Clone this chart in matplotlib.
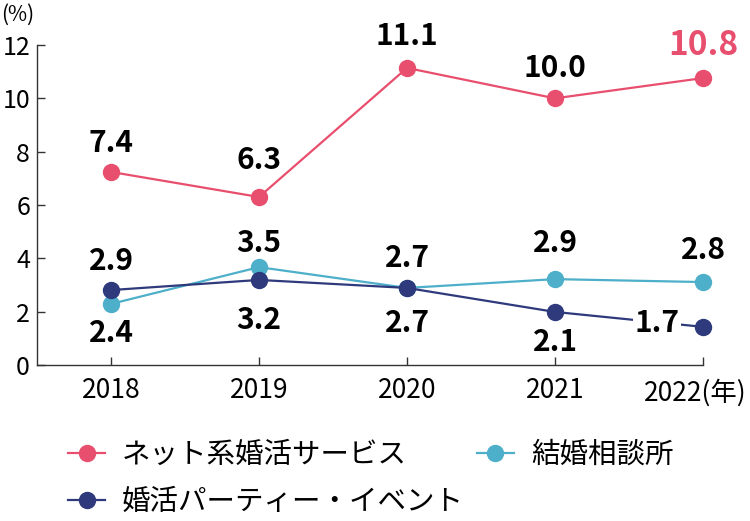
import numpy as np
from matplotlib import pyplot as plt
from matplotlib.lines import Line2D

plt.rcParams['font.family'] = ['Noto Sans CJK JP', 'DejaVu Sans']

years = [2018, 2019, 2020, 2021, 2022]
year_labels = ['2018', '2019', '2020', '2021', '']

# positions of the points as drawn
net_vals = [7.24, 6.3, 11.14, 10.0, 10.76]
soudan_vals = [2.29, 3.67, 2.89, 3.22, 3.11]
party_vals = [2.81, 3.19, 2.89, 1.99, 1.43]

# printed labels
net_labels = ['7.4', '6.3', '11.1', '10.0', '10.8']
soudan_labels = ['2.4', '3.5', '2.7', '2.9', '2.8']
party_labels = ['2.9', '3.2', '2.7', '2.1', '1.7']

names = ['ネット系婚活サービス', '結婚相談所', '婚活パーティー・イベント']
c_net = '#E84F6E'
c_soudan = '#4DAFC9'
c_party = '#2E3A7C'

fig = plt.figure(figsize=(7.5, 5.21), dpi=100)
ax = fig.add_axes([37 / 750, 1 - 365 / 521, (703 - 37) / 750, 320 / 521])

for vals, c in [(soudan_vals, c_soudan), (party_vals, c_party), (net_vals, c_net)]:
    ax.plot(years, vals, color=c, lw=1.6, marker='o', ms=11.5, clip_on=False, zorder=3)

ax.set_xlim(2017.5, 2022)
ax.set_ylim(0, 12)
ax.set_yticks(np.arange(0, 13, 2))
ax.set_xticks(years)
ax.set_xticklabels(year_labels)
ax.tick_params(direction='in', length=6, width=1, color='#333333')
ax.tick_params(axis='x', pad=9, labelsize=19)
ax.tick_params(axis='y', pad=5, labelsize=18)
for s in ['top', 'right']:
    ax.spines[s].set_visible(False)
for s in ['left', 'bottom']:
    ax.spines[s].set_color('#333333')
    ax.spines[s].set_linewidth(1)

ax.annotate('2022(年)', (years[-1], 0), xytext=(44, -14), textcoords='offset pixels',
            ha='right', va='top', fontsize=19)
fig.text(1 / 750, 1 - 15 / 521, '(%)', fontsize=15, va='center', ha='left')


def label(x, y, txt, dx, dy, color='black', size=21.5, bg=False):
    t = ax.annotate(txt, (x, y), xytext=(dx, dy), textcoords='offset pixels',
                    ha='center', va='center', fontsize=size, fontweight='bold', color=color, zorder=5)
    if bg:
        t.set_bbox(dict(facecolor='white', edgecolor='none', pad=1))


net_off = [29, 37, 32, 30, 33]
for i in range(5):
    if i == 4:
        label(years[i], net_vals[i], net_labels[i], 0, net_off[i], color=c_net, size=24)
    else:
        label(years[i], net_vals[i], net_labels[i], 0, net_off[i])

soudan_off = [(0, -29), (0, 24), (0, 30), (0, 36), (0, 32)]
for i in range(5):
    label(years[i], soudan_vals[i], soudan_labels[i], soudan_off[i][0], soudan_off[i][1])

party_off = [(0, 29), (0, -40), (0, -35), (0, -30), (-46, 4)]
for i in range(5):
    label(years[i], party_vals[i], party_labels[i], party_off[i][0], party_off[i][1], bg=(i == 4))

handles = [
    Line2D([], [], color=c_net, lw=1.6, marker='o', ms=11.5),
    Line2D([], [], color=c_party, lw=1.6, marker='o', ms=11.5),
    Line2D([], [], color=c_soudan, lw=1.6, marker='o', ms=11.5),
]
fig.legend(handles, [names[0], names[2], names[1]], ncol=2, loc='upper left',
           bbox_to_anchor=(68 / 750, 1 - 440 / 521), frameon=False, fontsize=20.5,
           handlelength=1.3, handletextpad=0.6, columnspacing=0.45, labelspacing=0.6,
           borderpad=0, borderaxespad=0)

plt.savefig('out.png', dpi=100)
